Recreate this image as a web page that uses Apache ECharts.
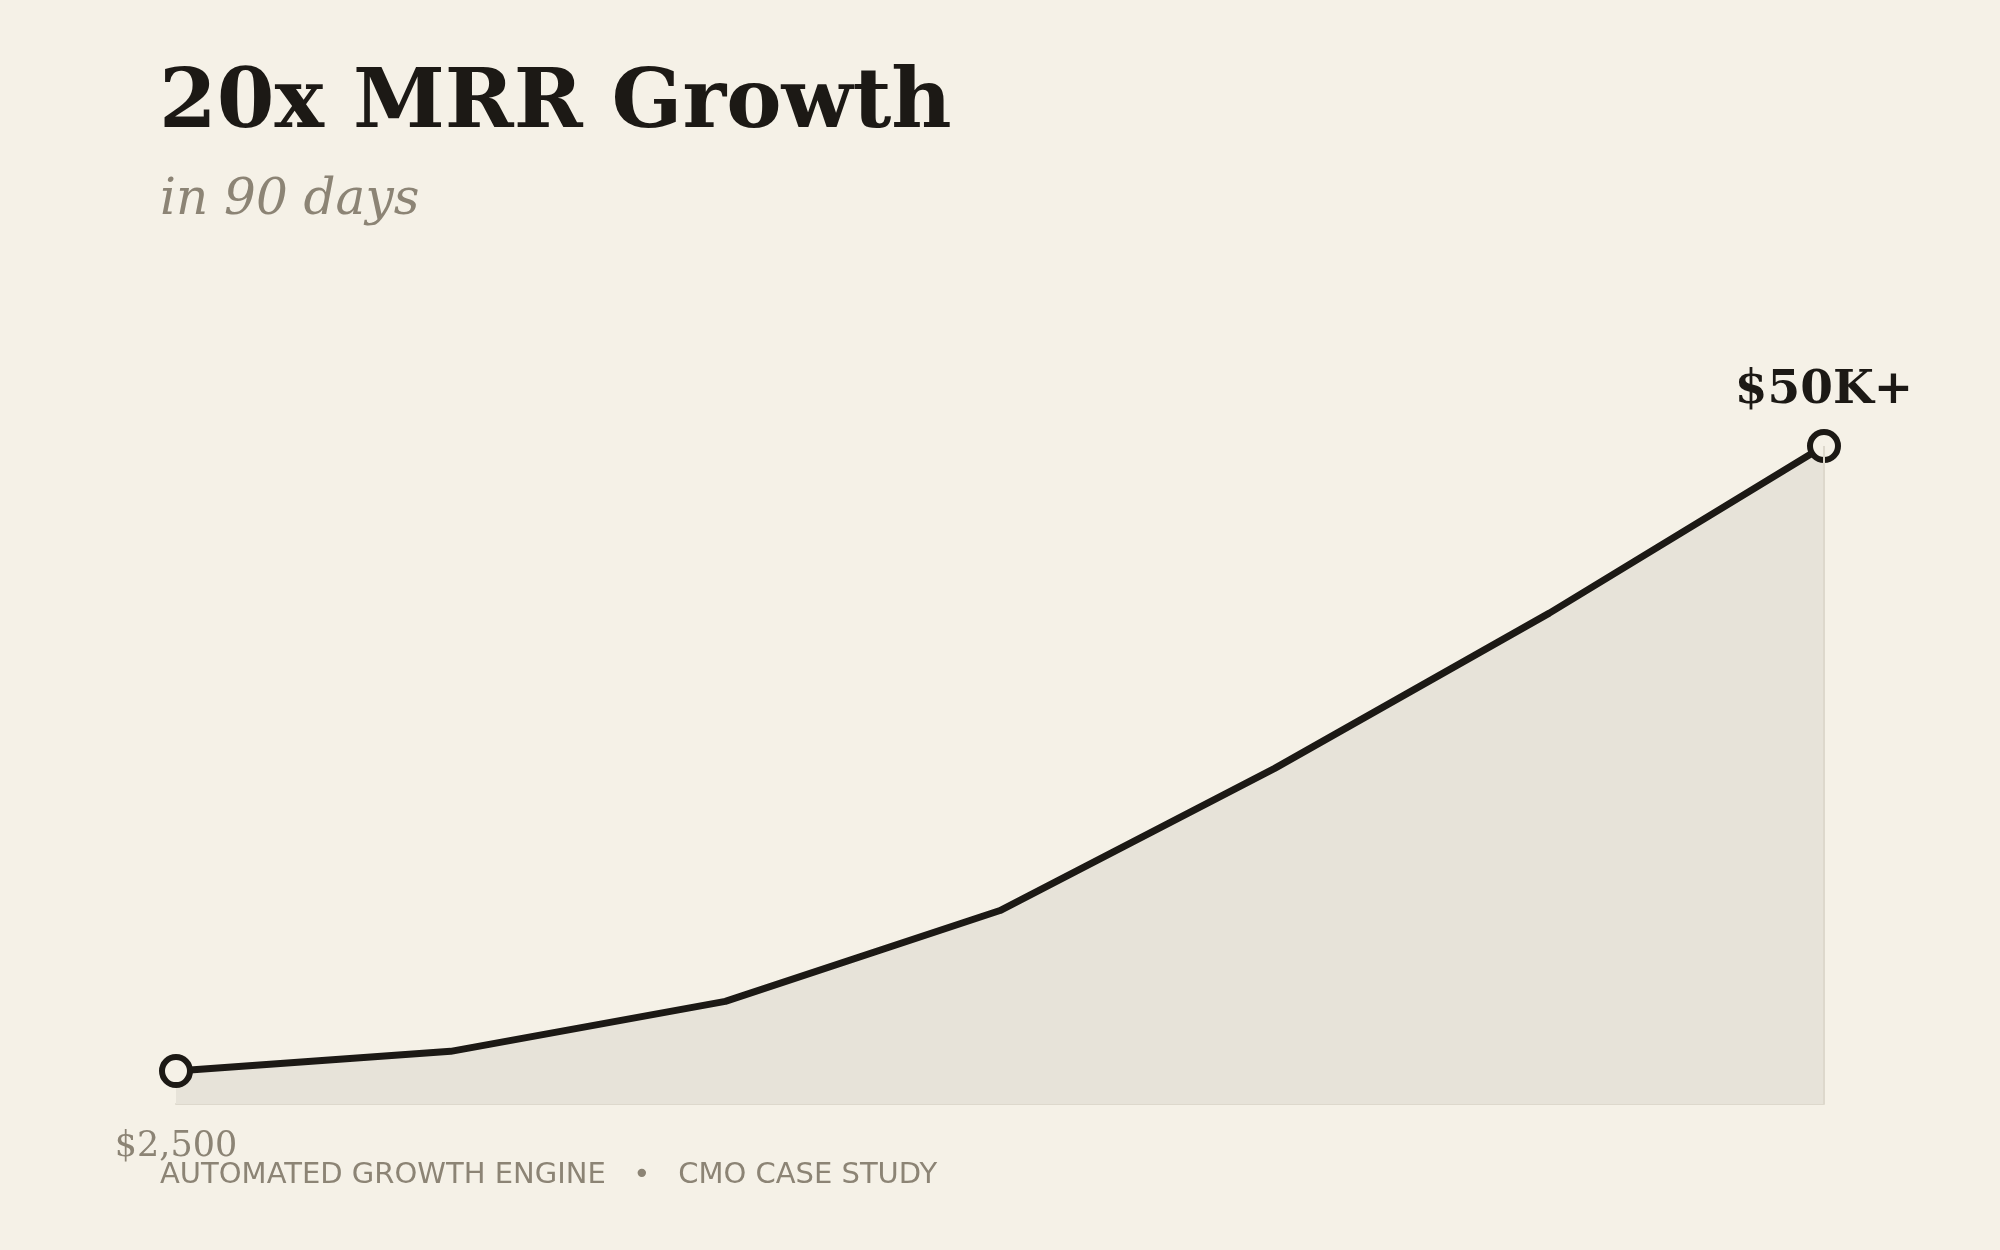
<!DOCTYPE html>
<html>
<head>
<meta charset="utf-8">
<script src="https://cdn.jsdelivr.net/npm/echarts@6/dist/echarts.min.js"></script>
<style>
html,body{margin:0;padding:0;background:#f5f1e7;}
#chart{width:2000px;height:1250px;}
</style>
</head>
<body>
<div id="chart"></div>
<script>
const days = ['Day 0', 'Day 15', 'Day 30', 'Day 45', 'Day 60', 'Day 75', 'Day 90'];
const mrr = [2500, 4000, 7800, 14700, 25500, 37300, 50000];
const pointLabels = ['$2,500', '', '', '', '', '', '$50K+'];
const titleText = '20x MRR Growth';
const subtitleText = 'in 90 days';
const footerText = 'AUTOMATED GROWTH ENGINE   \u2022   CMO CASE STUDY';

const ink = '#1c1915';
const muted = '#8c8475';
const bg = '#f5f1e7';

const last = mrr.length - 1;
const seriesData = mrr.map((v, i) => {
  const item = { value: v };
  if (i === 0) {
    item.symbol = 'circle';
    item.label = {
      show: true, position: 'bottom', distance: 41,
      formatter: pointLabels[i],
      fontFamily: 'DejaVu Serif', fontSize: 35, color: muted
    };
  } else if (i === last) {
    item.symbol = 'circle';
    item.label = {
      show: true, position: 'top', distance: 15,
      formatter: pointLabels[i],
      fontFamily: 'DejaVu Serif', fontWeight: 'bold', fontSize: 47, color: ink
    };
  } else {
    item.symbol = 'none';
  }
  return item;
});

const chart = echarts.init(document.getElementById('chart'), null, { renderer: 'canvas' });
chart.setOption({
  backgroundColor: bg,
  animation: false,
  title: [
    {
      text: titleText, left: 154, top: 59,
      textStyle: { fontFamily: 'DejaVu Serif', fontWeight: 'bold', fontSize: 83, color: ink }
    },
    {
      text: subtitleText, left: 155, top: 171,
      textStyle: { fontFamily: 'DejaVu Serif', fontStyle: 'italic', fontWeight: 'normal', fontSize: 50, color: muted }
    },
    {
      text: footerText, left: 155, top: 1156,
      textStyle: { fontFamily: 'DejaVu Sans', fontWeight: 'normal', fontSize: 29, color: muted }
    }
  ],
  grid: { left: 176, right: 176, top: 446, bottom: 146, containLabel: false },
  xAxis: {
    type: 'category', data: days, boundaryGap: false,
    axisLine: { show: true, lineStyle: { color: '#ddd8cc', width: 2 } },
    axisTick: { show: false }, axisLabel: { show: false }, splitLine: { show: false }
  },
  yAxis: {
    type: 'value', min: 0, max: 50000,
    axisLine: { show: false }, axisTick: { show: false }, axisLabel: { show: false }, splitLine: { show: false }
  },
  series: [{
    type: 'line',
    data: seriesData,
    symbolSize: 28,
    showAllSymbol: true,
    lineStyle: { color: ink, width: 7 },
    itemStyle: { color: bg, borderColor: ink, borderWidth: 6 },
    areaStyle: { color: '#e7e3d9', opacity: 1 },
    z: 3,
    markLine: {
      silent: true, symbol: 'none', label: { show: false },
      lineStyle: { color: '#ddd8cc', width: 2, type: 'solid' },
      data: [[{ coord: [days[last], 0] }, { coord: [days[last], mrr[last]] }]]
    }
  }]
});
</script>
</body>
</html>
